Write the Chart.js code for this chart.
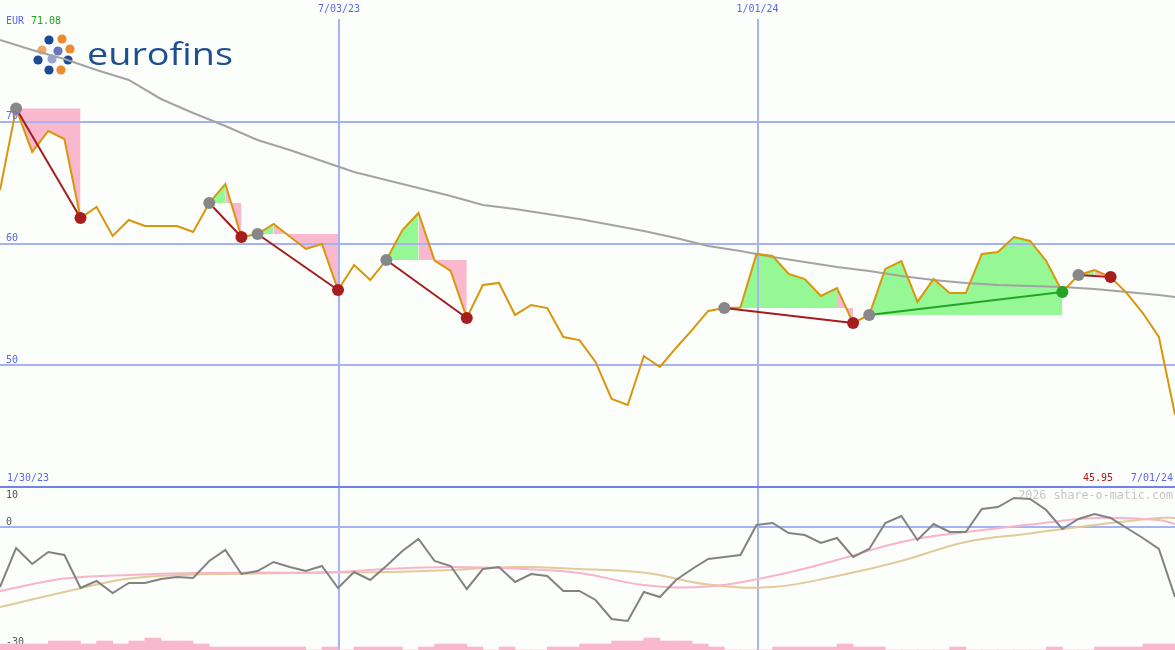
<!DOCTYPE html>
<html>
<head>
<meta charset="utf-8">
<script src="https://cdn.jsdelivr.net/npm/chart.js@4.4.1/dist/chart.umd.min.js"></script>
<style>
    html, body { margin: 0; padding: 0; background: #fcfefc; }
    #wrap { position: relative; width: 1175px; height: 650px; overflow: hidden; }
    #main { position: absolute; left: 0; top: 0; }
    #osc { position: absolute; left: 0; top: 486px; }
</style>
</head>
<body>
<div id="wrap">
    <canvas id="main" width="1175" height="487"></canvas>
    <canvas id="osc" width="1175" height="164"></canvas>
</div>
<script>
"use strict"

// weekly closes (EUR), week 0 = 2/06/23 ... week 73 = 7/01/24
var prices = [
    64.39, 71.08, 67.52, 69.24, 68.58, 62.09, 63.00, 60.62, 61.93, 61.44,
    61.44, 61.44, 60.94, 63.33, 64.89, 60.53, 60.78, 61.60, 60.57, 59.55,
    59.96, 56.18, 58.23, 57.00, 58.64, 61.11, 62.51, 58.60, 57.74, 53.88,
    56.59, 56.76, 54.13, 54.95, 54.70, 52.32, 52.07, 50.27, 47.23, 46.74,
    50.76, 49.86, 51.42, 52.90, 54.46, 54.70, 54.75, 59.14, 58.97, 57.50,
    57.08, 55.69, 56.34, 53.47, 54.13, 57.91, 58.56, 55.20, 57.08, 55.93,
    55.93, 59.14, 59.30, 60.53, 60.21, 58.56, 56.02, 57.41, 57.82, 57.25,
    55.93, 54.29, 52.32, 45.95
];

// long moving average (grey)
var maWeeks = [0, 2, 4, 6, 8, 10, 12, 14, 16, 18, 20, 22, 24, 26, 28, 30, 32, 34, 36,
    38, 40, 42, 44, 46, 48, 50, 52, 54, 56, 58, 60, 62, 64, 66, 68, 70, 72, 73];
var movingAvg = [76.71, 75.89, 75.15, 74.25, 73.43, 71.87, 70.72, 69.65, 68.50, 67.68,
    66.78, 65.87, 65.22, 64.56, 63.90, 63.16, 62.83, 62.42, 62.01, 61.52,
    61.03, 60.45, 59.79, 59.38, 58.89, 58.48, 58.07, 57.74, 57.33, 57.00,
    56.76, 56.59, 56.51, 56.43, 56.26, 56.02, 55.77, 55.61];

// signals: entry week -> exit week
var trades = [
    { entry: 1, exit: 5 },
    { entry: 13, exit: 15 },
    { entry: 16, exit: 21 },
    { entry: 24, exit: 29 },
    { entry: 45, exit: 53 },
    { entry: 54, exit: 66 },
    { entry: 67, exit: 69 }
];

var priceLevels = [50, 60, 70];
var dateWeeks = [21, 47];
var dateLabels = ['7/03/23', '1/01/24'];
var firstDate = '1/30/23';
var lastDate = '7/01/24';
var currency = 'EUR';
var topValue = '71.08';
var lastValue = '45.95';

// lower panel
var oscillator = [
    -15.0, -5.25, -9.25, -6.25, -7.0, -15.25, -13.5, -16.5, -14.0, -14.0,
    -13.0, -12.5, -12.75, -8.5, -5.75, -11.75, -11.0, -8.75, -10.0, -11.0,
    -9.75, -15.25, -11.25, -13.25, -9.75, -6.0, -3.0, -8.5, -9.75, -15.5,
    -10.5, -10.0, -13.75, -11.75, -12.25, -16.0, -16.0, -18.25, -23.0, -23.5,
    -16.25, -17.5, -13.25, -10.5, -8.0, -7.5, -7.0, 0.5, 1.0, -1.5,
    -2.0, -4.0, -2.75, -7.5, -5.5, 1.0, 2.75, -3.25, 0.75, -1.25,
    -1.25, 4.5, 5.0, 7.25, 7.0, 4.25, -0.5, 2.0, 3.25, 2.25,
    -0.25, -2.75, -5.5, -17.5
];
var slowWeeks = [0, 4, 8, 12, 16, 20, 24, 28, 32, 36, 40, 44, 48, 52, 56, 60, 64, 68, 72, 73];
var signalPink = [-16, -12.9, -12, -11.5, -11.4, -11.4, -10.5, -10, -10.4, -11.5,
    -14.5, -14.9, -12.25, -8.25, -3.75, -1.25, 0.6, 2.25, 1.75, 0.75];
var signalTan = [-20, -16.25, -12.9, -11.9, -11.6, -11.4, -11.25, -10.75, -10, -10.5,
    -11.4, -14.4, -15, -12.25, -8.5, -3.75, -1.6, 0.5, 2.25, 2.25];
var volume = [
    2, 2, 2, 3, 3, 2, 3, 2, 3, 4,
    3, 3, 2, 1, 1, 1, 1, 1, 1, 0,
    1, 0, 1, 1, 1, 0, 1, 2, 2, 1,
    0, 1, 0, 0, 1, 1, 2, 2, 3, 3,
    4, 3, 3, 2, 1, 0, 0, 0, 1, 1,
    1, 1, 2, 1, 1, 0, 0, 0, 0, 1,
    0, 0, 0, 0, 0, 1, 0, 0, 1, 1,
    1, 2, 2
];
var oscLabels = [10, 0, -30];

var colors = {
    grid: '#a6b3f2',
    gridDark: '#7282ea',
    text: '#5b66ee',
    price: '#d8960a',
    ma: '#a3a3a3',
    loss: '#a51d1d',
    win: '#24a324',
    entry: '#878787',
    pink: '#f9b8cd',
    green: '#95f895',
    osc: '#828282',
    sigPink: '#f8b4ca',
    sigTan: '#e2cb9a',
    label: '#555555',
    mark: '#c6c6c6'
};
var mono = '"DejaVu Sans Mono", monospace';

function pts(xs, ys) {
    return xs.map(function (x, k) { return { x: x, y: ys[k] }; });
}

var mainDatasets = [];
mainDatasets.push({
    label: 'avg', data: pts(maWeeks, movingAvg),
    borderColor: colors.ma, borderWidth: 2, pointRadius: 0, order: 5
});
mainDatasets.push({
    label: currency, data: prices.map(function (p, i) { return { x: i, y: p }; }),
    borderColor: colors.price, borderWidth: 2, pointRadius: 0, order: 3
});

trades.forEach(function (t) {
    var level = prices[t.entry];
    var win = prices[t.exit] > level;

    // green / pink areas against the entry price
    var runs = [];
    for (var i = t.entry; i < t.exit; i++) {
        var up = prices[i + 1] >= level;
        var last = runs[runs.length - 1];
        if (last && last.up == up) last.to = i + 1;
        else runs.push({ from: i, to: i + 1, up: up });
    }
    runs.forEach(function (r) {
        var d = [];
        for (var k = r.from; k <= r.to; k++) d.push({ x: k, y: prices[k] });
        mainDatasets.push({
            data: d, fill: { value: level },
            backgroundColor: r.up ? colors.green : colors.pink,
            borderColor: 'transparent', borderWidth: 0, pointRadius: 0, order: 8
        });
    });

    mainDatasets.push({
        data: [{ x: t.entry, y: level }, { x: t.exit, y: prices[t.exit] }],
        borderColor: win ? colors.win : colors.loss, borderWidth: 2,
        pointRadius: 6, pointHoverRadius: 6, pointBorderWidth: 0,
        pointBackgroundColor: [colors.entry, win ? colors.win : colors.loss],
        order: 1
    });
});

function drawLogo(ctx) {
    var dots = [
        [49, 40, '#1b4b92'], [62, 39, '#f08a2e'], [42, 50, '#f6a664'],
        [58, 51, '#6676bd'], [70, 49, '#f08a2e'], [38, 60, '#1b4b92'],
        [52, 59, '#9aa2d6'], [68, 60, '#1b4b92'], [49, 70, '#1b4b92'],
        [61, 70, '#f08a2e']
    ];
    dots.forEach(function (d) {
        ctx.fillStyle = d[2];
        ctx.beginPath();
        ctx.arc(d[0], d[1], 4.6, 0, Math.PI * 2);
        ctx.fill();
    });
    ctx.font = '31px "Open Sans", sans-serif';
    ctx.fillStyle = '#1e4f8e';
    ctx.textBaseline = 'alphabetic';
    ctx.textAlign = 'left';
    var w = ctx.measureText('eurofins').width;
    ctx.save();
    ctx.translate(87, 65);
    ctx.scale(146 / w, 1);
    ctx.fillText('eurofins', 0, 0);
    ctx.restore();
}

var mainDecor = {
    id: 'mainDecor',
    beforeDatasetsDraw: function (chart) {
        var ctx = chart.ctx, x = chart.scales.x, y = chart.scales.y;
        ctx.save();
        drawLogo(ctx);
        ctx.strokeStyle = colors.grid;
        ctx.lineWidth = 2;
        priceLevels.forEach(function (v) {
            var py = Math.round(y.getPixelForValue(v));
            ctx.beginPath(); ctx.moveTo(0, py); ctx.lineTo(chart.width, py); ctx.stroke();
        });
        dateWeeks.forEach(function (w) {
            var px = Math.round(x.getPixelForValue(w)) + 1;
            ctx.beginPath(); ctx.moveTo(px, 19); ctx.lineTo(px, chart.height); ctx.stroke();
        });
        ctx.restore();
    },
    afterDraw: function (chart) {
        var ctx = chart.ctx, x = chart.scales.x, y = chart.scales.y;
        ctx.save();
        ctx.font = '10px ' + mono;
        ctx.textBaseline = 'middle';
        ctx.textAlign = 'left';
        ctx.fillStyle = colors.text;
        ctx.fillText(currency, 6, 21);
        ctx.fillStyle = colors.win;
        ctx.fillText(topValue, 31, 21);
        ctx.fillStyle = colors.text;
        priceLevels.forEach(function (v) {
            ctx.fillText(String(v), 6, y.getPixelForValue(v) - 5);
        });
        ctx.fillText(firstDate, 7, 478);
        ctx.textAlign = 'center';
        dateWeeks.forEach(function (w, k) {
            ctx.fillText(dateLabels[k], x.getPixelForValue(w) + 1, 9);
        });
        ctx.textAlign = 'right';
        ctx.fillText(lastDate, 1173, 478);
        ctx.fillStyle = colors.loss;
        ctx.fillText(lastValue, 1113, 478);
        ctx.restore();
    }
};

new Chart(document.getElementById('main').getContext('2d'), {
    type: 'line',
    data: { datasets: mainDatasets },
    options: {
        responsive: false,
        animation: false,
        devicePixelRatio: 1,
        layout: { padding: 0, autoPadding: false },
        events: [],
        scales: {
            x: { type: 'linear', min: 0, max: 73, display: false, offset: false },
            y: { min: 40, max: 80, display: false }
        },
        plugins: {
            legend: { display: false },
            tooltip: { enabled: false },
            filler: { drawTime: 'beforeDraw' }
        }
    },
    plugins: [mainDecor]
});

var oscDecor = {
    id: 'oscDecor',
    beforeDatasetsDraw: function (chart) {
        var ctx = chart.ctx, x = chart.scales.x, y = chart.scales.y;
        ctx.save();
        ctx.strokeStyle = colors.grid;
        ctx.lineWidth = 2;
        var zy = Math.round(y.getPixelForValue(0));
        ctx.beginPath(); ctx.moveTo(0, zy); ctx.lineTo(chart.width, zy); ctx.stroke();
        dateWeeks.forEach(function (w) {
            var px = Math.round(x.getPixelForValue(w)) + 1;
            ctx.beginPath(); ctx.moveTo(px, 0); ctx.lineTo(px, chart.height); ctx.stroke();
        });
        ctx.strokeStyle = colors.gridDark;
        ctx.beginPath(); ctx.moveTo(0, 1); ctx.lineTo(chart.width, 1); ctx.stroke();

        ctx.font = '11.7px ' + mono;
        ctx.textBaseline = 'middle';
        ctx.textAlign = 'right';
        ctx.fillStyle = colors.mark;
        ctx.fillText('2026 share-o-matic.com', 1173, 10);

        ctx.font = '10px ' + mono;
        ctx.textAlign = 'left';
        ctx.fillStyle = colors.label;
        oscLabels.forEach(function (v, k) {
            var py = y.getPixelForValue(v);
            ctx.fillText(String(v), 6, k == 0 ? py + 8 : py - 5);
        });
        ctx.restore();
    }
};

new Chart(document.getElementById('osc').getContext('2d'), {
    type: 'line',
    data: {
        datasets: [
            {
                data: oscillator.map(function (v, i) { return { x: i, y: v }; }),
                borderColor: colors.osc, borderWidth: 2, pointRadius: 0, order: 1
            },
            {
                data: pts(slowWeeks, signalPink),
                borderColor: colors.sigPink, borderWidth: 2, pointRadius: 0, tension: 0.4, order: 2
            },
            {
                data: pts(slowWeeks, signalTan),
                borderColor: colors.sigTan, borderWidth: 2, pointRadius: 0, tension: 0.4, order: 3
            },
            {
                type: 'bar',
                data: volume.map(function (v, i) { return { x: i + 0.5, y: v }; }),
                backgroundColor: colors.pink, borderWidth: 0,
                barPercentage: 1, categoryPercentage: 1, grouped: false,
                yAxisID: 'yv', order: 6
            }
        ]
    },
    options: {
        responsive: false,
        animation: false,
        devicePixelRatio: 1,
        layout: { padding: 0, autoPadding: false },
        events: [],
        scales: {
            x: { type: 'linear', min: 0, max: 73, display: false, offset: false },
            y: { min: -30.75, max: 10.25, display: false },
            yv: { min: 0, max: 54.67, display: false }
        },
        plugins: {
            legend: { display: false },
            tooltip: { enabled: false }
        }
    },
    plugins: [oscDecor]
});
</script>
</body>
</html>
